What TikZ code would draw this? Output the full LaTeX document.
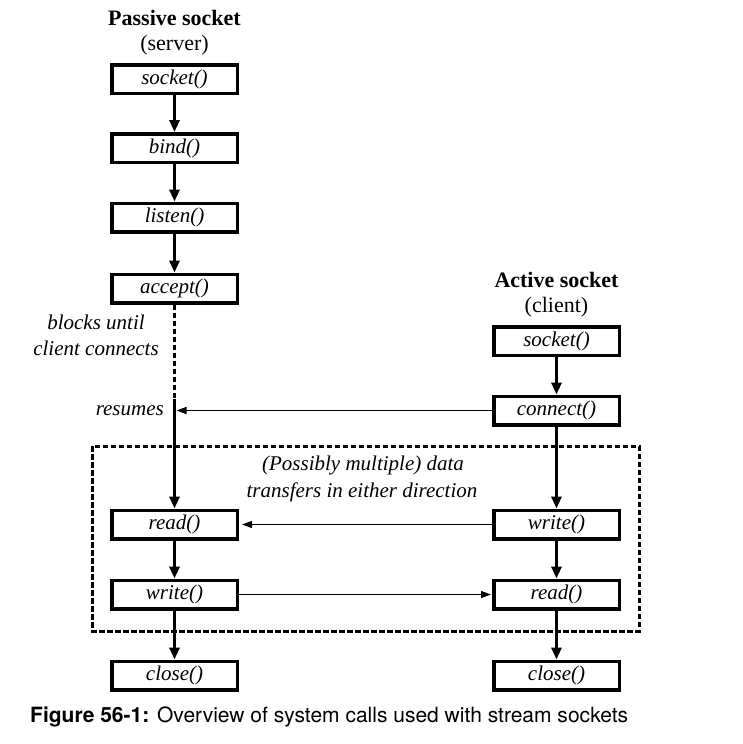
\documentclass[tikz,border=0pt]{standalone}
\usepackage{fontspec}
\setmainfont{Liberation Serif}
\newfontfamily\capfont{TeX Gyre Heros}
\usetikzlibrary{arrows.meta}
\begin{document}
\begin{tikzpicture}[x=1pt,y=-1pt,
  call/.style={draw, line width=3.5pt, minimum width=125.5pt, minimum height=28.5pt, inner sep=0pt, font=\fontsize{21}{23}\selectfont\itshape},
  flow/.style={line width=3pt, -{Triangle[length=12pt,width=10pt]}},
  msg/.style={line width=1pt, -{Triangle[length=10pt,width=7pt]}},
  dashline/.style={line width=3pt, dash pattern=on 5.5pt off 2.5pt},
  lbl/.style={font=\fontsize{21}{23}\selectfont\itshape, inner sep=0pt},
  hdr/.style={font=\fontsize{22}{24}\selectfont\bfseries, inner sep=0pt},
  subhdr/.style={font=\fontsize{22}{24}\selectfont, inner sep=0pt}]
\useasboundingbox (0,0) rectangle (742,744);
\fill[white] (0,0) rectangle (742,744);

% dashed region
\draw[dashline] (92,446) rectangle (639,631);

% headers
\node[hdr] (hP) at (174.5,18) {Passive socket};
\node[subhdr] (hS) at (174.5,45) {(server)};
\node[hdr] (hA) at (556.5,280) {Active socket};
\node[subhdr] (hC) at (556.5,307) {(client)};

% left column
\node[call] (sockL) at (174.5,79) {socket()};
\node[call] (bindL) at (174.5,148) {bind()};
\node[call] (listL) at (174.5,217.5) {listen()};
\node[call] (accL) at (174.5,288.5) {accept()};
\node[call] (rdL) at (174.5,524.5) {read()};
\node[call] (wrL) at (174.5,594.5) {write()};
\node[call] (clL) at (174.5,675.5) {close()};

% right column
\node[call] (sockR) at (556.5,341) {socket()};
\node[call] (conR) at (556.5,410.5) {connect()};
\node[call] (wrR) at (556.5,524.5) {write()};
\node[call] (rdR) at (556.5,594.5) {read()};
\node[call] (clR) at (556.5,675.5) {close()};

% labels
\node[lbl] (blk1) at (96,322) {blocks until};
\node[lbl] (blk2) at (96,348) {client connects};
\node[lbl, anchor=east] (res) at (164,411) {resumes};
\node[lbl] (pm1) at (363,465) {(Possibly multiple) data};
\node[lbl] (pm2) at (362,492) {transfers in either direction};

% flows left
\draw[flow] (sockL) -- (bindL);
\draw[flow] (bindL) -- (listL);
\draw[flow] (listL) -- (accL);
\coordinate (dashEnd) at (174.5,399);
\draw[dashline] (accL.south) -- (dashEnd);
\draw[flow] (dashEnd) -- (rdL);
\draw[flow] (rdL) -- (wrL);
\draw[flow] (wrL) -- (clL);

% flows right
\draw[flow] (sockR) -- (conR);
\draw[flow] (conR) -- (wrR);
\draw[flow] (wrR) -- (rdR);
\draw[flow] (rdR) -- (clR);

% messages
\coordinate (resPt) at (176.5,410.5);
\draw[msg] (conR.west) -- (resPt);
\draw[msg, shorten >=3pt] (wrR.west) -- (rdL.east);
\draw[msg, shorten >=1pt] (wrL.east) -- (rdR.west);

% caption
\node[anchor=base west, inner sep=0pt, font=\capfont\fontsize{21}{23}\selectfont] (cap) at (30,722) {\textbf{Figure 56-1:} Overview of system calls used with stream sockets};
\end{tikzpicture}
\end{document}
